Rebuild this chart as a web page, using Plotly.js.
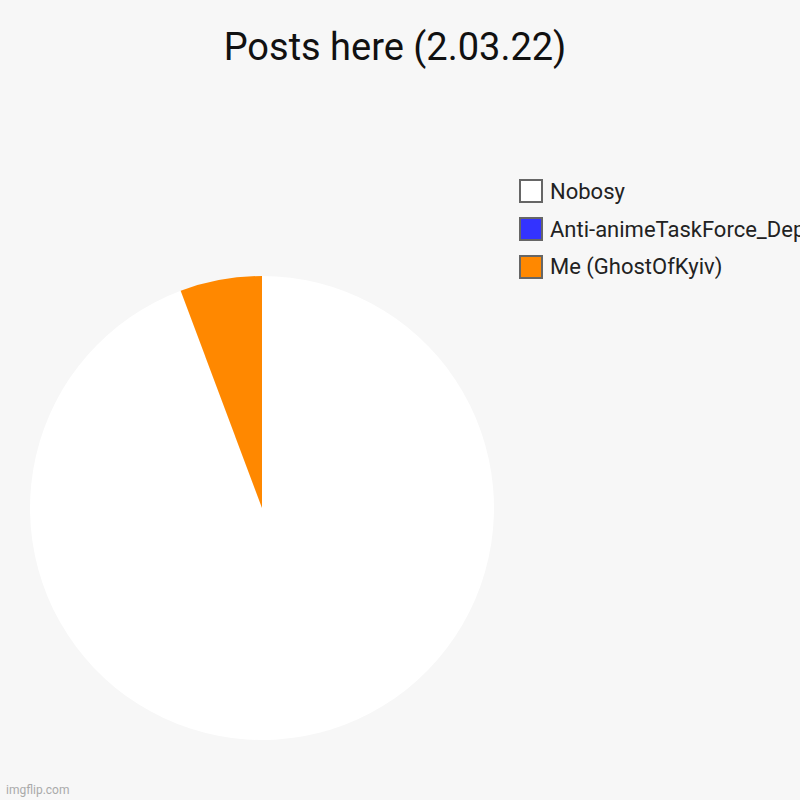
<!DOCTYPE html>
<html>
<head>
<meta charset="utf-8">
<script src="https://cdn.plot.ly/plotly-3.0.1.min.js"></script>
<style>html,body{margin:0;padding:0;background:#f7f7f7;}#chart{width:800px;height:800px;}</style>
</head>
<body>
<div id="chart"></div>
<script>
// Data (legend order, top to bottom; slices drawn clockwise from 12 o'clock)
var labels = ["Nobosy", "Anti-animeTaskForce_Deputy", "Me (GhostOfKyiv)"];
var values = [94.3, 0, 5.7];
var colors = ["#ffffff", "#3333ff", "#ff8800"];
var chartTitle = "Posts here (2.03.22)";

var W = 800, H = 800;
function px(x){ return x / W; }
function py(y){ return 1 - y / H; }

var trace = {
  type: "pie",
  labels: labels,
  values: values,
  sort: false,
  direction: "clockwise",
  rotation: 0,
  textinfo: "none",
  hoverinfo: "none",
  showlegend: false,
  marker: { colors: colors, line: { width: 0 } },
  domain: { x: [px(30), px(494)], y: [py(740), py(276)] }
};

// Custom legend
var shapes = [], annotations = [];
var rowY = [191, 229, 267];
for (var i = 0; i < labels.length; i++) {
  var cy = rowY[i];
  shapes.push({
    type: "rect", xref: "paper", yref: "paper",
    x0: px(520), x1: px(542), y0: py(cy + 11), y1: py(cy - 11),
    fillcolor: colors[i], line: { color: "#666666", width: 2 }
  });
  annotations.push({
    xref: "paper", yref: "paper", x: px(548), y: py(cy),
    xanchor: "left", yanchor: "middle", showarrow: false,
    text: labels[i], font: { family: "Roboto", size: 22, color: "#222222" }
  });
}
annotations.push({
  xref: "paper", yref: "paper", x: px(4), y: py(790),
  xanchor: "left", yanchor: "middle", showarrow: false,
  text: "imgflip.com", font: { family: "Roboto", size: 12, color: "#aaaaaa" }
});

var layout = {
  width: W, height: H,
  margin: { l: 0, r: 0, t: 0, b: 0 },
  paper_bgcolor: "#f7f7f7",
  plot_bgcolor: "#f7f7f7",
  title: {
    text: chartTitle,
    x: px(395), xanchor: "center", xref: "paper",
    y: py(47), yanchor: "middle", yref: "paper",
    font: { family: "Roboto", size: 38, color: "#111111" }
  },
  shapes: shapes,
  annotations: annotations
};

Plotly.newPlot("chart", [trace], layout, { staticPlot: true, displayModeBar: false });
</script>
</body>
</html>
